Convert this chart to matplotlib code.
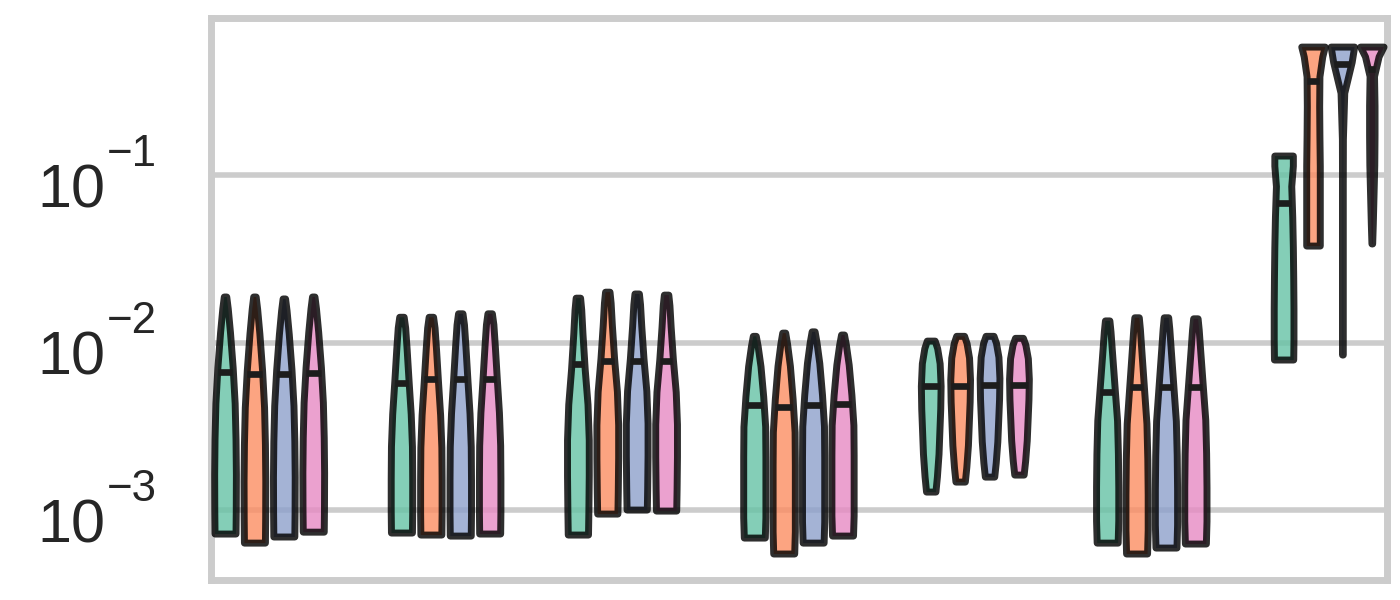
import numpy as np
import matplotlib
matplotlib.use('Agg')
import matplotlib.pyplot as plt
from matplotlib.transforms import offset_copy
from matplotlib.ticker import NullFormatter, NullLocator
import seaborn as sns

# 7 groups x 4 hues
HUE_COLORS = ['#66c2a5', '#fc8d62', '#8da0cb', '#e78ac3']
Y_TICK_EXPS = [-3, -2, -1]

LOWS = [
    [7.24e-4, 6.39e-4, 6.95e-4, 7.43e-4],
    [7.34e-4, 7.14e-4, 7.04e-4, 7.24e-4],
    [7.14e-4, 9.53e-4, 1.007e-3, 9.93e-4],
    [6.85e-4, 5.50e-4, 6.39e-4, 7.04e-4],
    [1.29e-3, 1.48e-3, 1.585e-3, 1.63e-3],
    [6.39e-4, 5.50e-4, 5.97e-4, 6.31e-4],
    [7.94e-3, 0.0381, 8.50e-3, 0.0392],
]
HIGHS = [
    [0.0189, 0.0189, 0.0184, 0.0189],
    [0.0143, 0.0143, 0.0150, 0.0150],
    [0.0186, 0.0202, 0.0197, 0.0194],
    [0.0110, 0.0115, 0.0117, 0.0112],
    [0.0103, 0.0110, 0.0110, 0.0107],
    [0.0136, 0.0142, 0.0142, 0.0140],
    [0.1315, 0.589, 0.589, 0.589],
]
MEDIANS = [
    [6.68e-3, 6.50e-3, 6.50e-3, 6.59e-3],
    [5.74e-3, 6.07e-3, 6.07e-3, 6.07e-3],
    [7.46e-3, 7.78e-3, 7.78e-3, 7.78e-3],
    [4.24e-3, 4.13e-3, 4.24e-3, 4.30e-3],
    [5.51e-3, 5.51e-3, 5.58e-3, 5.58e-3],
    [5.07e-3, 5.43e-3, 5.43e-3, 5.43e-3],
    [0.0684, 0.366, 0.464, 0.433],
]

# relative density width, sampled bottom -> top of each violin
PROFILE_FRACS = [0, 0.1, 0.25, 0.4, 0.55, 0.7, 0.85, 0.95, 1.0]
SHAPE_1 = [0.85, 0.87, 0.88, 0.85, 0.78, 0.62, 0.40, 0.22, 0.10]
SHAPE_2 = [0.85, 0.87, 0.87, 0.85, 0.75, 0.58, 0.42, 0.30, 0.18]
SHAPE_3 = [0.82, 0.85, 0.88, 0.88, 0.78, 0.55, 0.37, 0.27, 0.18]
SHAPE_4 = [0.85, 0.90, 0.90, 0.90, 0.88, 0.72, 0.50, 0.27, 0.12]
SHAPE_5 = [0.38, 0.50, 0.63, 0.70, 0.77, 0.80, 0.72, 0.52, 0.32]
SHAPE_6 = [0.85, 0.90, 0.90, 0.87, 0.80, 0.60, 0.40, 0.27, 0.18]
SHAPE_7 = [
    [0.78, 0.80, 0.80, 0.78, 0.75, 0.70, 0.62, 0.75, 0.75],
    [0.55, 0.55, 0.55, 0.55, 0.52, 0.50, 0.52, 0.75, 0.95],
    [0.03, 0.03, 0.03, 0.03, 0.03, 0.04, 0.15, 0.75, 0.95],
    [0.03, 0.08, 0.14, 0.20, 0.22, 0.22, 0.18, 0.55, 0.95],
]
PROFILES = [[SHAPE_1] * 4, [SHAPE_2] * 4, [SHAPE_3] * 4, [SHAPE_4] * 4,
            [SHAPE_5] * 4, [SHAPE_6] * 4, SHAPE_7]

HUE_STEP = 1 / 6
MAX_HW = 0.07
DPI = 200


def draw_violin(ax, x, lo, hi, med, prof, color):
    fr = np.array(PROFILE_FRACS)
    llo, lhi = np.log10(lo), np.log10(hi)
    ys = 10 ** (llo + fr * (lhi - llo))
    hw = np.array(prof) * MAX_HW
    face = matplotlib.colors.to_rgba(color, 0.8)
    poly = ax.fill_betweenx(ys, x - hw, x + hw, facecolor=face,
                            edgecolor=(0, 0, 0, 0.82), linewidth=2.5, zorder=3)
    poly.set_joinstyle('round')
    fm = (np.log10(med) - llo) / (lhi - llo)
    w = np.interp(fm, fr, hw) * 0.92
    ax.plot([x - w, x + w], [med, med], color='#1c1c1c', linewidth=2.4,
            solid_capstyle='butt', zorder=4)


def draw_tick_labels(fig, ax):
    """Old-style 10^x labels: big raised exponent, right aligned."""
    base = ax.get_yaxis_transform()
    right_pt = -19.3
    for e in Y_TICK_EXPS:
        sup = ax.text(0, 10.0 ** e, '\u2212{}'.format(abs(e)),
                      transform=offset_copy(base, fig=fig, x=right_pt, y=3.4,
                                            units='points'),
                      ha='right', va='baseline', fontsize=15.8,
                      color='#262626', clip_on=False)
        # "10" sits just left of the exponent, baseline below the grid line
        ax.annotate('10', xy=(0, 10.0 ** e), xycoords=(sup, 'data'),
                    xytext=(-0.6, -11.6), textcoords='offset points',
                    ha='right', va='baseline', fontsize=22,
                    color='#262626', annotation_clip=False)


def main():
    sns.set_theme(context='poster', style='whitegrid')
    plt.rcParams['font.family'] = ['Liberation Sans', 'DejaVu Sans']

    fig = plt.figure(figsize=(7, 3), dpi=DPI)
    ax = fig.add_axes([0.1504, 0.0333, 0.8403, 0.9367])

    for g in range(len(LOWS)):
        for h in range(4):
            x = g + (h - 1.5) * HUE_STEP
            draw_violin(ax, x, LOWS[g][h], HIGHS[g][h], MEDIANS[g][h],
                        PROFILES[g][h], HUE_COLORS[h])

    ax.set_yscale('log')
    ax.set_ylim(10 ** -3.418, 10 ** -0.059)
    ax.set_xlim(-0.332, 6.336)
    ax.set_xticks([])
    ax.set_yticks([10.0 ** e for e in Y_TICK_EXPS])
    ax.yaxis.set_minor_locator(NullLocator())
    ax.yaxis.set_major_formatter(NullFormatter())
    ax.grid(True, axis='y', which='major')
    ax.grid(False, axis='x')
    ax.set_axisbelow(True)

    draw_tick_labels(fig, ax)

    fig.savefig('out.png', dpi=DPI, facecolor='white')
    plt.close(fig)


if __name__ == "__main__":
    main()
